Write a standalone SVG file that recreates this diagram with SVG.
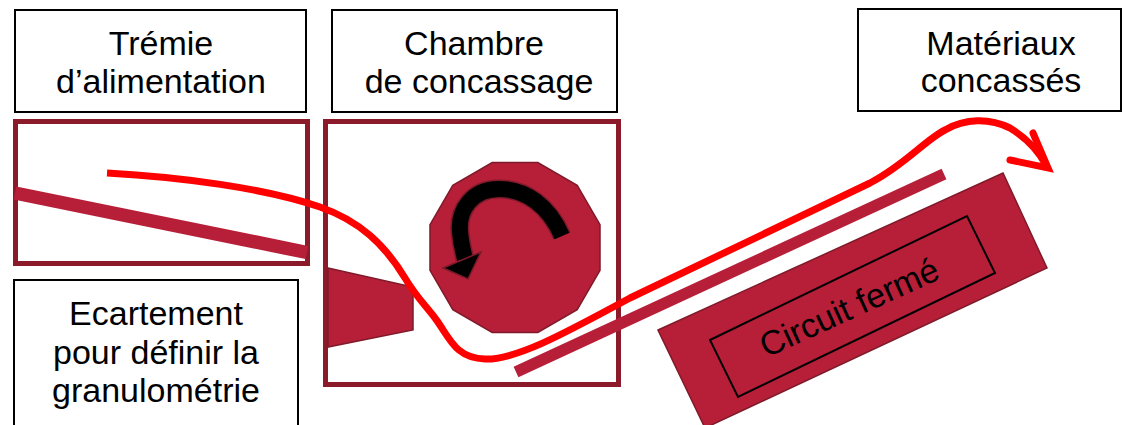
<svg xmlns="http://www.w3.org/2000/svg" width="1124" height="425" viewBox="0 0 1124 425">
  <style>
    .label { fill: #ffffff; stroke: #000000; stroke-width: 2; }
    .txt { font-family: "Liberation Sans", Arial, sans-serif; font-size: 34px; fill: #000000; text-anchor: middle; }
    .frame { fill: none; stroke: #8B1A2B; stroke-width: 5; }
    .part { fill: #B71F38; stroke: #7F1A2A; stroke-width: 1.5; }
    .bar { stroke: #B71F38; fill: none; stroke-linecap: butt; }
    .flow { fill: none; stroke: #FF0000; stroke-width: 7; stroke-linecap: butt; stroke-linejoin: round; }
    .flowhead { fill: none; stroke: #FF0000; stroke-width: 7; stroke-linecap: round; stroke-linejoin: miter; }
  </style>

  <rect width="1124" height="425" fill="#ffffff"/>

  <!-- label boxes -->
  <g id="label-tremie">
    <rect class="label" x="15" y="10" width="291" height="102"/>
    <text class="txt" x="161" y="55">Trémie</text>
    <text class="txt" x="161" y="93">d’alimentation</text>
  </g>
  <g id="label-chambre">
    <rect class="label" x="332" y="10" width="285" height="102"/>
    <text class="txt" x="474" y="55">Chambre</text>
    <text class="txt" x="479" y="93">de concassage</text>
  </g>
  <g id="label-materiaux">
    <rect class="label" x="858" y="9" width="263" height="102"/>
    <text class="txt" x="1001" y="55">Matériaux</text>
    <text class="txt" x="1001" y="92">concassés</text>
  </g>
  <g id="label-ecartement">
    <rect class="label" x="14" y="280" width="284" height="160"/>
    <text class="txt" x="156" y="325">Ecartement</text>
    <text class="txt" x="156" y="364">pour définir la</text>
    <text class="txt" x="156" y="402">granulométrie</text>
  </g>

  <!-- feed hopper -->
  <g id="hopper">
    <rect class="frame" x="15.5" y="121.5" width="292" height="142"/>
    <line class="bar" x1="15" y1="193" x2="307" y2="252.5" stroke-width="13.5"/>
  </g>

  <!-- crushing chamber: fixed jaw, rotor and rotation arrow -->
  <g id="chamber">
    <rect class="frame" x="325.5" y="121.5" width="293" height="263"/>
    <polygon id="jaw" class="part" points="328,268 413,287 413,330 328,347"/>
    <polygon id="rotor" class="part" points="600,270.3 577.2,309.7 537.8,332.5 492.2,332.5 452.8,309.7 430,270.3 430,224.7 452.8,185.3 492.2,162.5 537.8,162.5 577.2,185.3 600,224.7"/>
    <g id="rotation">
      <path d="M562 236 C549 206 526 189 499 189 C472 189 458 210 460 232 C461 244 463 251 465 259" fill="none" stroke="#7F1A2A" stroke-width="19"/>
      <path d="M562 236 C549 206 526 189 499 189 C472 189 458 210 460 232 C461 244 463 251 465 259" fill="none" stroke="#000000" stroke-width="16"/>
      <polygon points="443,268 481,252 468,279" fill="#000000" stroke="#7F1A2A" stroke-width="1.5" stroke-linejoin="miter"/>
    </g>
  </g>

  <!-- discharge chute -->
  <g id="chute">
    <line class="bar" x1="516" y1="372" x2="944" y2="174" stroke-width="11.5"/>
  </g>

  <!-- closed circuit -->
  <g id="circuit">
    <polygon class="part" points="658,330 1003,173 1047,268 705,428"/>
    <polygon points="710,340 967,216 995,273 738,397" fill="none" stroke="#000000" stroke-width="2"/>
    <text class="txt" transform="translate(854 318) rotate(-24.5)" x="0" y="0">Circuit fermé</text>
  </g>

  <!-- material flow -->
  <g id="connectors">
    <path class="flow" d="M107 173 C180 177 265 188 320 207 C360 221 385 245 405 278 C415 295 425 305 435 318 C450 338 455 358 485 359 C515 360 560 336 630 298 L870 183 C905 165 925 140 945 130 C965 118 990 118 1010 128 C1025 137 1038 150 1046 165"/>
    <polyline class="flowhead" points="1033,133 1048,168 1010,160"/>
  </g>
</svg>
